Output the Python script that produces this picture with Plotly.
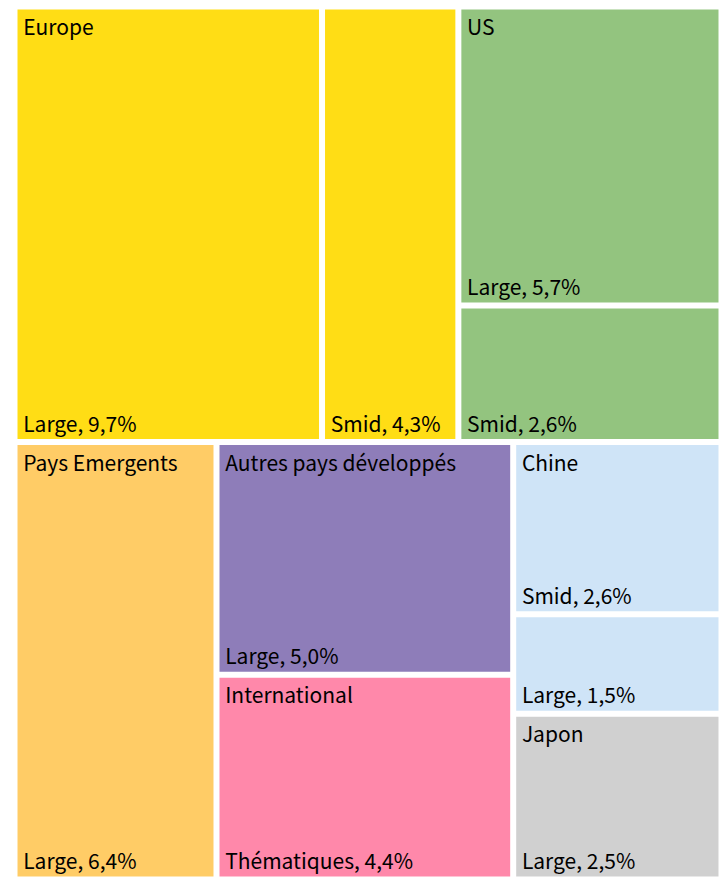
import plotly.graph_objects as go

# data (poids en % du portefeuille)
regions = ["Europe", "Europe", "US", "US", "Pays Emergents",
           "Autres pays développés", "International", "Chine", "Chine", "Japon"]
segments = ["Large", "Smid", "Large", "Smid", "Large",
            "Large", "Thématiques", "Smid", "Large", "Large"]
weights = [9.7, 4.3, 5.7, 2.6, 6.4, 5.0, 4.4, 2.6, 1.5, 2.5]

region_colors = {
    "Europe": "#FFDD15",
    "US": "#93C47F",
    "Pays Emergents": "#FFCC66",
    "Autres pays développés": "#8E7DB9",
    "International": "#FF88AA",
    "Chine": "#CFE4F7",
    "Japon": "#D0D0D0",
}

# invisible blocks used only to group the tiles the way Excel tiles them
# (order matters: children are tiled in the order they appear)
groups = ["haut", "bas", "Europe", "US", "Pays Emergents", "bas-2", "bas-3",
          "Autres pays développés", "International", "Chine", "Japon"]
group_parent = ["root", "root", "haut", "haut", "bas", "bas", "bas",
                "bas-2", "bas-2", "bas-3", "bas-3"]

FONT = "Noto Sans CJK SC"
pad = "\u2009"

ids, parents, values, colors, leaf_text, head_text = [], [], [], [], [], []

def add(i, p, v, c, t1, t2):
    ids.append(i)
    parents.append(p)
    values.append(v)
    colors.append(c)
    leaf_text.append(t1)
    head_text.append(t2)

add("root", "", 0, "white", "", "")
for g, p in zip(groups, group_parent):
    add(g, p, 0, "white", "", "")

seen = set()
for r, s, w in zip(regions, segments, weights):
    first = r not in seen
    seen.add(r)
    label = f"{s}, {w:.1f}%".replace(".", ",")
    add(r + "/" + s, r, w, region_colors[r], pad + label, pad + r if first else "")

common = dict(
    ids=ids, labels=ids, parents=parents, values=values,
    branchvalues="remainder", sort=False,
    tiling=dict(packing="squarify"),
    pathbar=dict(visible=False),
    texttemplate="%{text}",
    insidetextfont=dict(family=FONT, size=21, color="black"),
)

fig = go.Figure()
# coloured tiles with the segment labels (bottom left)
fig.add_trace(go.Treemap(
    text=leaf_text, textposition="bottom left",
    marker=dict(colors=colors, line=dict(color="white", width=3),
                pad=dict(t=0, l=0, r=0, b=0)),
    **common,
))
# transparent copy of the same tiling, carrying the region names (top left)
fig.add_trace(go.Treemap(
    text=head_text, textposition="top left",
    marker=dict(colors=["rgba(255,255,255,0)"] * len(ids),
                line=dict(color="rgba(255,255,255,0)", width=3),
                pad=dict(t=0, l=0, r=0, b=0)),
    hoverinfo="skip",
    **common,
))

fig.update_layout(
    width=720, height=878,
    margin=dict(l=16, r=0, t=8, b=0),
    paper_bgcolor="white",
    font=dict(family=FONT, size=21, color="black"),
)

fig.write_html("out.html", config={"displayModeBar": False},
               post_script="document.body.style.margin = '0';")
